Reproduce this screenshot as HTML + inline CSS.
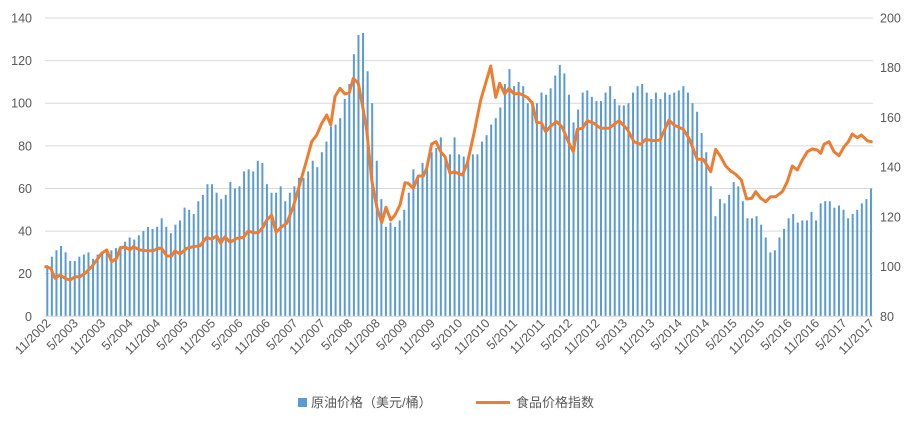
<!DOCTYPE html>
<html><head><meta charset="utf-8"><style>
body{margin:0;background:#fff;width:914px;height:419px;overflow:hidden}
text{font-family:"Liberation Sans","Noto Sans CJK SC",sans-serif;fill:#595959}
</style></head><body>
<svg id="s" width="914" height="419" xmlns="http://www.w3.org/2000/svg"></svg>
<script>
const s=document.getElementById('s');let h='';
const y0=316.3,sc=298.3/140;
for(let v=0;v<=140;v+=20){const y=y0-v*sc;h+=`<line x1="45" x2="873" y1="${y}" y2="${y}" stroke="#d9d9d9" stroke-width="1"/>`;
h+=`<text x="32" y="${y+4.5}" font-size="12.5" text-anchor="end">${v}</text>`;}
for(let v=80;v<=200;v+=20){const y=y0-(v-80)/120*298.3;h+=`<text x="880" y="${y+4.5}" font-size="12.5">${v}</text>`;}
const b=[24,28,31,33,30,26,26,28,29,30,27,29,30,31,31,32,33,35,37,36,38,40,42,41,
42,46,42,39,43,45,51,50,48,54,57,62,62,58,55,57,63,60,61,68,69,68,73,72,
62,58,58,61,54,58,61,65,65,68,73,70,77,82,89,90,93,102,109,123,132,133,115,100,
73,55,42,44,42,45,50,58,69,65,72,69,77,79,84,75,76,
84,76,75,75,76,76,82,85,90,93,98,109,116,108,110,108,100,101,100,105,104,107,113,118,114,104,91,97,105,106,103,101,101,105,108,102,99,99,100,105,108,109,105,102,105,102,105,104,105,106,108,105,100,96,86,77,61,47,55,53,57,63,61,54,46,46,47,43,37,30,31,37,41,46,48,44,45,45,49,45,53,54,54,51,52,50,46,48,50,53,55,60];
const dx=4.576;
b.forEach((v,i)=>{const x=47.3+i*dx;h+=`<rect x="${x-1}" y="${y0-v*sc}" width="2" height="${v*sc}" fill="#5b9bd5"/>`;});
const z1=[[137,800],[152,805],[165,835],[180,825],[195,835],[210,840],[225,830],[240,830],[255,820],[275,800],[290,780],[305,760],[320,750],[335,785],[350,775],[360,745],[375,740],[390,750],[400,740],[420,750],[440,752],[460,752],[475,745],[485,745],[500,768],[515,768],[525,752],[540,762],[560,745],[580,740],[600,737],[620,712],[635,718],[650,707],[662,730],[675,710],[690,727],[710,715],[730,712],[745,693],[760,698],[775,698],[790,680],[800,660],[815,645],[828,697],[845,680],[860,670],[880,620],[900,550],[920,480],[935,425],[950,405],[965,370],[980,345],[992,375],[1005,290],[1020,265],[1035,282],[1048,278],[1060,235],[1075,250],[1090,330],[1100,390],[1115,540],[1130,620],[1145,668],[1158,622],[1172,660],[1185,645],[1200,615],[1215,548],[1225,550],[1240,565],[1255,528],[1270,528],[1280,505],[1295,432],[1308,425],[1322,455],[1335,470],[1350,520],[1365,515]];
const z2=[[0,515],[25,525],[40,490],[60,400],[80,300],[110,198],[125,292],[137,250],[152,282],[165,265],[180,282],[195,280],[220,292],[235,310],[248,368],[262,368],[275,395],[290,378],[308,365],[325,382],[345,430],[358,455],[370,388],[385,385],[400,362],[420,370],[440,385],[465,385],[495,362],[520,388],[540,425],[560,433],[575,418],[595,422],[618,420],[645,360],[660,375],[688,388],[705,415],[730,478],[748,478],[770,515],[785,448],[800,470],[815,498],[830,513],[845,523],[862,540],[878,597],[893,595],[905,575],[920,595],[935,605],[950,590],[965,590],[985,575],[1000,545],[1015,498],[1030,510],[1045,480],[1060,455],[1075,447],[1090,450],[1100,460],[1110,433],[1125,425],[1140,455],[1155,467],[1170,440],[1182,427],[1195,402],[1210,413],[1222,405],[1240,422],[1252,425]];
let pts=z1.map(p=>(p[0]/3).toFixed(1)+','+(p[1]/3).toFixed(1)).concat(z2.map(p=>(454+p[0]/3).toFixed(1)+','+(p[1]/3).toFixed(1)));
h+=`<polyline points="${pts.join(' ')}" fill="none" stroke="#ed7d31" stroke-width="3" stroke-linejoin="round" stroke-linecap="round"/>`;
h+=`<line x1="45" x2="873" y1="${y0}" y2="${y0}" stroke="#d9d9d9"/>`;
for(let k=0;k<=30;k++){const x=47.3+k*6*dx;const m=k%2?5:11;const yr=2002+Math.ceil(k/2);
h+=`<text transform="translate(${x+4},${324}) rotate(-45)" font-size="12.5" text-anchor="end">${m}/${yr}</text>`;}
h+=`<rect x="298" y="398" width="9" height="9" fill="#5b9bd5"/><text x="311" y="407" font-size="13">原油价格（美元/桶）</text>`;
h+=`<line x1="476" x2="510" y1="402.5" y2="402.5" stroke="#ed7d31" stroke-width="3"/><text x="516" y="407" font-size="13">食品价格指数</text>`;
s.innerHTML=h;
</script>
</body></html>
